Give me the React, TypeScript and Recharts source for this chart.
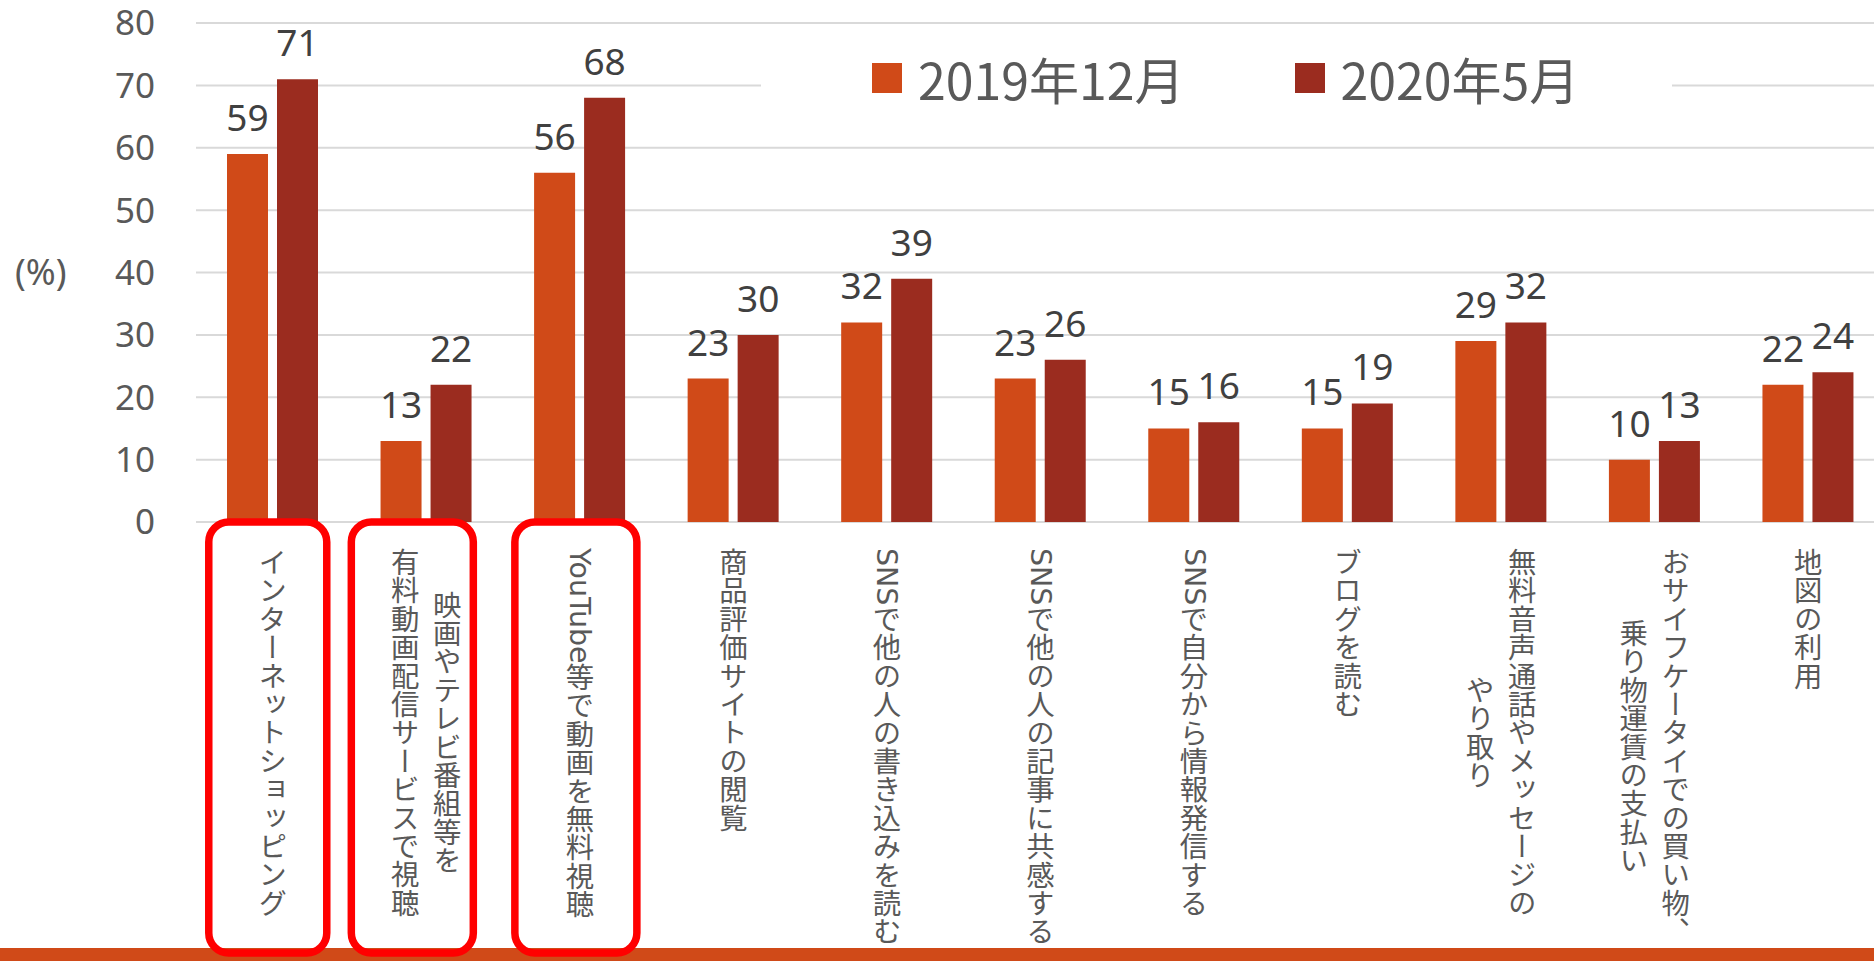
import React from "react"
import {
  BarChart,
  Bar,
  XAxis,
  YAxis,
  CartesianGrid,
  Legend,
  LabelList,
} from "recharts"

// categories (line breaks = label wraps)
const categories = [
  "インターネットショッピング",
  "映画やテレビ番組等を\n有料動画配信サービスで視聴",
  "YouTube等で動画を無料視聴",
  "商品評価サイトの閲覧",
  "SNSで他の人の書き込みを読む",
  "SNSで他の人の記事に共感する",
  "SNSで自分から情報発信する",
  "ブログを読む",
  "無料音声通話やメッセージの\nやり取り",
  "おサイフケータイでの買い物、\n乗り物運賃の支払い",
  "地図の利用",
]
const dec2019 = [59, 13, 56, 23, 32, 23, 15, 15, 29, 10, 22]
const may2020 = [71, 22, 68, 30, 39, 26, 16, 19, 32, 13, 24]
const yTicks = [0, 10, 20, 30, 40, 50, 60, 70, 80]
const highlighted = [0, 1, 2]

const ORANGE = "#D04A18"
const DARK = "#9B2C1F"
const GRAY = "#595959"

const data = categories.map((name, i) => ({
  name,
  dec2019: dec2019[i],
  may2020: may2020[i],
}))

// hand-drawn red boxes around the first three labels (offset from tick centre)
const boxShape: Record<number, { dx: number; w: number }> = {
  0: { dx: -5, w: 118 },
  1: { dx: -14, w: 122 },
  2: { dx: -4, w: 122 },
}

// latin runs get a wider face so "SNS" / "YouTube" take the same room as in the slide
function runs(line: string) {
  return line.split(/([A-Za-z]+)/).filter(Boolean).map((part, i) =>
    /^[A-Za-z]+$/.test(part) ? (
      <tspan key={i} fontFamily="'DejaVu Sans', sans-serif">
        {part}
      </tspan>
    ) : (
      <tspan key={i}>{part}</tspan>
    )
  )
}

function CategoryTick(props: any) {
  const { x, y, payload, index } = props
  const lines = String(payload.value).split("\n")
  const fs = 28.4
  const lh = 42
  const top = y + 26
  const longest = Math.max(...lines.map((l) => l.length))
  const multi = lines.length > 1
  const box = highlighted.includes(index) ? boxShape[index] : null
  return (
    <g>
      <defs>
        <clipPath id={`lbl-clip-${index}`}>
          <rect x={x - 120} y={0} width={240} height={948} />
        </clipPath>
      </defs>
      <g clipPath={`url(#lbl-clip-${index})`}>
        {lines.map((line, i) => (
          <text
            key={i}
            x={x + ((lines.length - 1) / 2 - i) * lh}
            y={multi ? top + (longest * fs) / 2 : top}
            textAnchor={multi ? "middle" : "start"}
            style={{ writingMode: "vertical-rl" }}
            fontSize={fs}
            fill={GRAY}
            fontFamily="'Noto Sans CJK JP', sans-serif"
          >
            {runs(line)}
          </text>
        ))}
      </g>
      {box && (
        <rect
          x={x + box.dx - box.w / 2}
          y={y}
          width={box.w}
          height={431}
          rx={20}
          fill="none"
          stroke="#FF0000"
          strokeWidth={7.5}
        />
      )}
    </g>
  )
}

function LegendContent({ payload }: any) {
  return (
    <div style={{ display: "flex", alignItems: "center", height: "100%", paddingLeft: 111 }}>
      {(payload || []).map((entry: any, i: number) => (
        <span
          key={i}
          style={{ display: "flex", alignItems: "center", marginRight: i === 0 ? 110 : 0 }}
        >
          <span style={{ width: 30, height: 30, background: entry.color, marginRight: 16 }} />
          <span
            style={{
              fontSize: 50,
              color: GRAY,
              fontFamily: "'Noto Sans CJK JP', sans-serif",
              lineHeight: 1,
            }}
          >
            {entry.value}
          </span>
        </span>
      ))}
    </div>
  )
}

export default function App() {
  return (
    <div
      style={{
        position: "fixed",
        left: 0,
        top: 0,
        width: 1874,
        height: 961,
        overflow: "hidden",
        background: "#fff",
        fontFamily: "'Noto Sans', 'Noto Sans CJK JP', sans-serif",
      }}
    >
      {/* slide footer band */}
      <div
        style={{ position: "absolute", left: 0, top: 948, width: "100%", height: 13, background: ORANGE }}
      />
      <div style={{ position: "absolute", left: 0, top: 0 }}>
        <BarChart
          width={1885}
          height={961}
          data={data}
          margin={{ top: 23, right: 0, left: 0, bottom: 0 }}
          barGap={9}
          barSize={41}
        >
          <CartesianGrid horizontal vertical={false} stroke="#d9d9d9" strokeWidth={2} />
          <XAxis
            dataKey="name"
            interval={0}
            height={439}
            axisLine={false}
            tickLine={false}
            tickSize={0}
            tickMargin={0}
            tick={<CategoryTick />}
          />
          <YAxis
            domain={[0, 80]}
            ticks={yTicks}
            width={196}
            axisLine={false}
            tickLine={false}
            tickSize={0}
            tickMargin={41}
            tick={{ fill: GRAY, fontSize: 35, fontFamily: "'Noto Sans', sans-serif" }}
            label={{ value: "(%)", position: "insideLeft", offset: 15, fill: GRAY, fontSize: 36 }}
          />
          <Legend
            layout="horizontal"
            verticalAlign="middle"
            align="center"
            content={<LegendContent />}
            wrapperStyle={{ left: 761, top: 40, width: 911, height: 76, background: "#fff" }}
          />
          <Bar dataKey="dec2019" name="2019年12月" fill={ORANGE} isAnimationActive={false}>
            <LabelList dataKey="dec2019" position="top" offset={23} fill="#404040" fontSize={37} />
          </Bar>
          <Bar dataKey="may2020" name="2020年5月" fill={DARK} isAnimationActive={false}>
            <LabelList dataKey="may2020" position="top" offset={23} fill="#404040" fontSize={37} />
          </Bar>
        </BarChart>
      </div>
    </div>
  )
}
